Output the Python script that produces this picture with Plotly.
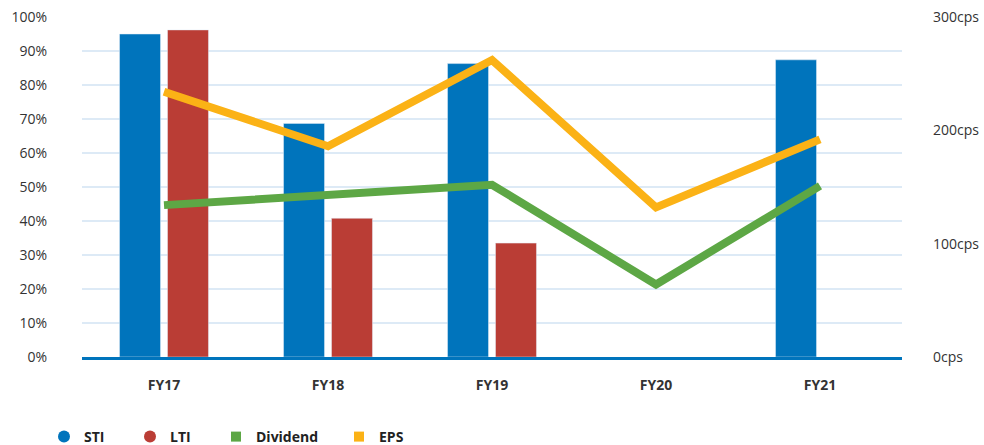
import plotly.graph_objects as go

categories = ["FY17", "FY18", "FY19", "FY20", "FY21"]
sti = [95.0, 68.7, 86.3, None, 87.4]          # % (left axis)
lti = [96.2, 40.8, 33.5, None, None]          # % (left axis)
dividend = [134, 143, 152, 64, 151]           # cps (right axis)
eps = [234, 186, 262, 132, 192]               # cps (right axis)

left_ticks = [0, 10, 20, 30, 40, 50, 60, 70, 80, 90, 100]
left_tick_text = [f"{v}%" for v in left_ticks]
right_ticks = [0, 100, 200, 300]
right_tick_text = [f"{v}cps" for v in right_ticks]

C_STI = "#0074BC"
C_LTI = "#BA3D35"
C_DIV = "#5DA745"
C_EPS = "#FBB216"
FONT = "Open Sans"
TXT = "#333333"

fig = go.Figure()
fig.add_trace(go.Bar(x=categories, y=sti, name="STI", marker_color=C_STI, showlegend=False))
fig.add_trace(go.Bar(x=categories, y=lti, name="LTI", marker_color=C_LTI, showlegend=False))
fig.add_trace(go.Scatter(x=categories, y=dividend, name="Dividend", yaxis="y2", mode="lines",
                         line=dict(color=C_DIV, width=8), showlegend=False))
fig.add_trace(go.Scatter(x=categories, y=eps, name="EPS", yaxis="y2", mode="lines",
                         line=dict(color=C_EPS, width=8), showlegend=False))

# legend entries (each in its own legend to place them like the reference)
legend_items = [("STI", C_STI, "circle", 12, "legend", 44),
                ("LTI", C_LTI, "circle", 12, "legend2", 130),
                ("Dividend", C_DIV, "square", 10, "legend3", 216),
                ("EPS", C_EPS, "square", 10, "legend4", 339)]
for name, col, sym, sz, lg, _ in legend_items:
    fig.add_trace(go.Scatter(x=[None], y=[None], mode="markers", name=name,
                             marker=dict(color=col, symbol=sym, size=sz),
                             showlegend=True, legend=lg, yaxis="y"))

W, H = 984, 445
legend_layout = {}
for name, col, sym, sz, lg, xpx in legend_items:
    legend_layout[lg] = dict(x=xpx / W, xref="container", y=1 - 437 / H, yref="container",
                             xanchor="left", yanchor="middle", orientation="h",
                             font=dict(family=FONT, size=14, color="#222222", weight="bold"),
                             bgcolor="rgba(0,0,0,0)", itemclick=False)

fig.update_layout(
    width=W, height=H,
    margin=dict(l=82, r=82, t=17, b=88, autoexpand=False),
    paper_bgcolor="white", plot_bgcolor="white",
    barmode="group", bargap=0.415, bargroupgap=0.146,
    font=dict(family=FONT, size=14, color=TXT),
    hovermode=False,
    xaxis=dict(showgrid=False, showline=True, linecolor=C_STI, linewidth=3,
               tickfont=dict(family=FONT, size=14, color=TXT, weight="bold"),
               ticklabelstandoff=13, fixedrange=True, automargin=False),
    yaxis=dict(range=[0, 100], tickvals=left_ticks, ticktext=left_tick_text,
               showgrid=True, gridcolor="#DDEAF6", gridwidth=2, zeroline=False,
               ticklabelstandoff=34, showline=False, automargin=False),
    yaxis2=dict(range=[0, 300], tickvals=right_ticks, ticktext=right_tick_text,
                overlaying="y", side="right", showgrid=False, zeroline=False,
                ticklabelstandoff=30, showline=False, automargin=False),
    **legend_layout,
)

fig.write_html("out.html", config={"displayModeBar": False},
               post_script="document.body.style.margin='0';document.body.style.overflow='hidden';")
